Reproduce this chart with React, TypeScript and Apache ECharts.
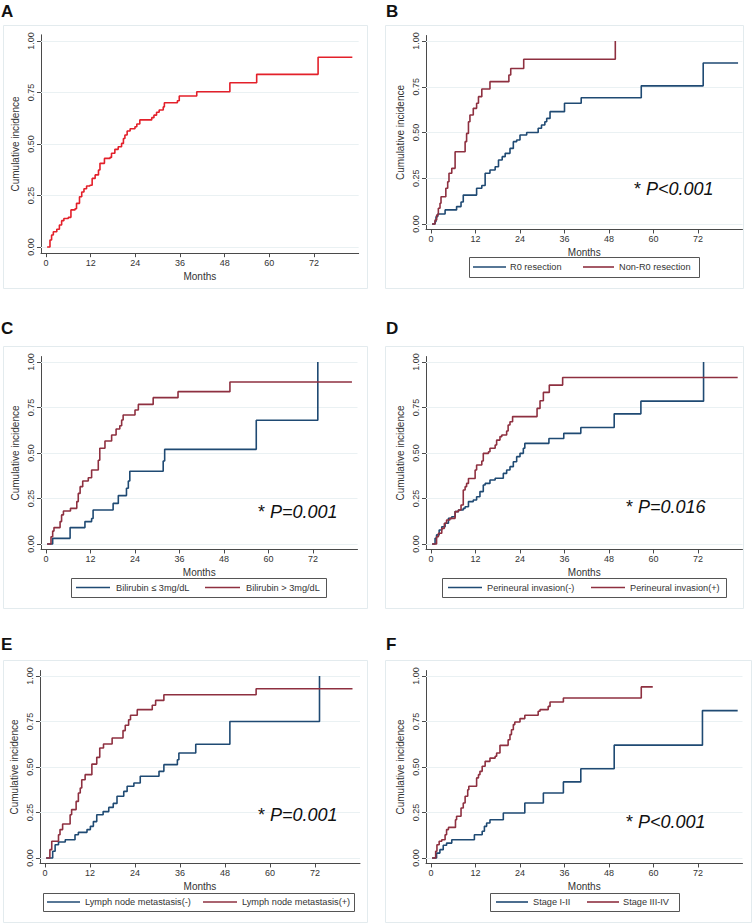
import React, { useEffect, useRef } from "react";
import * as echarts from "echarts";

// ---------- tick values ----------
const xTicks = [0, 12, 24, 36, 48, 60, 72];
const yTicks = [0, 0.25, 0.5, 0.75, 1];

// ---------- data: [month, cumulative incidence] ----------
const curveA: number[][] = [
  [0.3, 0], [1.07, 0.034], [1.5, 0.058], [1.97, 0.074], [2.9, 0.086], [3.6, 0.107], [4.2, 0.128], [4.8, 0.138],
  [6.0, 0.144], [6.7, 0.18], [7.8, 0.186], [8.2, 0.212], [9.0, 0.244], [9.6, 0.267], [10.2, 0.283], [10.9, 0.296],
  [11.8, 0.3], [12.4, 0.333], [13.2, 0.35], [14.1, 0.374], [14.5, 0.406], [15.7, 0.43], [17.2, 0.435], [17.6, 0.455],
  [18.5, 0.474], [19.4, 0.487], [20.3, 0.503], [20.8, 0.527], [21.2, 0.544], [21.8, 0.563], [22.6, 0.574], [23.9, 0.584],
  [24.4, 0.597], [25.2, 0.617], [28.4, 0.628], [29.0, 0.64], [29.7, 0.654], [30.4, 0.665], [31.5, 0.68], [31.8, 0.7],
  [35.3, 0.71], [35.8, 0.733], [40.5, 0.754], [49.4, 0.797], [56.6, 0.838], [73.1, 0.921], [82.3, 0.921],
];

const curveB_R0: number[][] = [
  [0.3, 0], [1.1, 0.013], [1.35, 0.04], [1.8, 0.055], [3.8, 0.077], [6.9, 0.095], [8.1, 0.12], [8.7, 0.158],
  [12.3, 0.195], [13.7, 0.21], [14.6, 0.277], [15.9, 0.295], [17.3, 0.313], [18.2, 0.35], [19.2, 0.368], [20, 0.386],
  [21.3, 0.413], [22.2, 0.45], [23.1, 0.459], [24, 0.486], [25.8, 0.5], [28.9, 0.523], [29.8, 0.541], [30.7, 0.559],
  [31.2, 0.577], [32.1, 0.614], [36, 0.66], [40.5, 0.69], [56.7, 0.755], [73.4, 0.88], [82.8, 0.88],
];
const curveB_NonR0: number[][] = [
  [0.3, 0], [1.08, 0.022], [1.53, 0.049], [1.98, 0.086], [2.43, 0.113], [2.7, 0.149], [4.0, 0.195], [4.5, 0.231],
  [4.85, 0.277], [5.6, 0.304], [6.5, 0.395], [9.2, 0.45], [9.6, 0.495], [10.1, 0.559], [10.5, 0.596], [11.4, 0.632],
  [12.3, 0.66], [12.8, 0.696], [13.7, 0.738], [15.9, 0.778], [21.0, 0.814], [21.5, 0.85], [25.0, 0.9], [49.7, 1.0],
];

const curveC_Low: number[][] = [
  [0.3, 0], [1.8, 0.031], [6.5, 0.09], [10.5, 0.123], [12.3, 0.14], [12.7, 0.187], [18.1, 0.223], [19.5, 0.266],
  [21.7, 0.306], [22.2, 0.346], [22.6, 0.4], [31.6, 0.456], [32, 0.52], [56.7, 0.68], [73.3, 1.0],
];
const curveC_High: number[][] = [
  [0.3, 0], [1.35, 0.04], [1.8, 0.071], [2.15, 0.09], [3.8, 0.123], [4.2, 0.16], [4.7, 0.181], [6.6, 0.196],
  [8.3, 0.233], [8.7, 0.278], [9.2, 0.315], [9.9, 0.346], [11.4, 0.364], [12.3, 0.407], [14.1, 0.46], [14.5, 0.526],
  [15.9, 0.566], [17.7, 0.599], [18.9, 0.632], [19.9, 0.65], [20.4, 0.681], [20.8, 0.709], [24, 0.736], [24.9, 0.767],
  [28.9, 0.804], [35.6, 0.837], [49.6, 0.89], [82.5, 0.89],
];

const curveD_Neg: number[][] = [
  [0.3, 0], [1.1, 0.031], [1.5, 0.05], [2.2, 0.077], [2.9, 0.095], [3.8, 0.114], [4.7, 0.141], [5.6, 0.15],
  [6.5, 0.178], [7.4, 0.187], [8.7, 0.196], [9.2, 0.205], [10.1, 0.233], [11.4, 0.242], [12.3, 0.26], [13.2, 0.288],
  [14.1, 0.324], [14.6, 0.333], [15.9, 0.352], [17.3, 0.361], [19.5, 0.388], [20.4, 0.407], [21.3, 0.425], [22.2, 0.452],
  [23.1, 0.48], [24, 0.498], [24.9, 0.526], [25.3, 0.553], [31.8, 0.58], [35.8, 0.608], [40.4, 0.64], [49.4, 0.715],
  [56.6, 0.785], [73.5, 1.0],
];
const curveD_Pos: number[][] = [
  [0.3, 0], [1.5, 0.04], [2.0, 0.059], [2.9, 0.086], [3.6, 0.114], [4.2, 0.132], [5.1, 0.141], [6.5, 0.178],
  [7.4, 0.187], [8.1, 0.214], [8.7, 0.297], [9.2, 0.315], [9.6, 0.333], [10.1, 0.36], [11.9, 0.407], [12.3, 0.434],
  [13.7, 0.456], [14.1, 0.498], [15.5, 0.507], [15.9, 0.526], [17.3, 0.544], [17.7, 0.571], [18.6, 0.59], [19.1, 0.599],
  [20.4, 0.621], [20.8, 0.654], [21.3, 0.672], [22, 0.7], [28.6, 0.745], [29.4, 0.787], [30.3, 0.833], [31.9, 0.873],
  [35.5, 0.915], [82.7, 0.915],
];

const curveE_Neg: number[][] = [
  [0.3, 0], [2.05, 0.037], [2.7, 0.073], [3.6, 0.088], [5.4, 0.1], [8.0, 0.128], [8.9, 0.141], [11.2, 0.156],
  [12.1, 0.174], [12.9, 0.2], [13.8, 0.238], [15.5, 0.255], [17.0, 0.278], [18.2, 0.3], [19.2, 0.339], [21, 0.366],
  [21.9, 0.394], [23.7, 0.412], [25.4, 0.449], [30.4, 0.476], [31.7, 0.513], [35.3, 0.54], [35.7, 0.577], [40.2, 0.625],
  [49.3, 0.75], [73.2, 1.0],
];
const curveE_Pos: number[][] = [
  [0.3, 0], [1.3, 0.046], [1.8, 0.092], [3.6, 0.128], [4.0, 0.156], [4.7, 0.187], [6.7, 0.238], [7.1, 0.266],
  [8.3, 0.311], [8.9, 0.357], [9.4, 0.385], [9.8, 0.43], [10.7, 0.458], [12.5, 0.516], [13.8, 0.553], [14.6, 0.604],
  [15.6, 0.626], [17.9, 0.659], [20.8, 0.7], [21.4, 0.729], [22.3, 0.76], [22.8, 0.784], [24.6, 0.815], [28.6, 0.839],
  [29.5, 0.866], [31.7, 0.897], [56.3, 0.93], [82, 0.93],
];

const curveF_Early: number[][] = [
  [0.3, 0], [1.5, 0.027], [2.4, 0.046], [3.3, 0.07], [4.2, 0.082], [5.6, 0.1], [11.7, 0.128], [13.8, 0.147],
  [14.4, 0.174], [15, 0.192], [15.9, 0.21], [19.5, 0.247], [25.3, 0.302], [30.3, 0.357], [35.7, 0.418], [40.4, 0.49],
  [49.4, 0.62], [73.2, 0.81], [82.7, 0.81],
];
const curveF_Late: number[][] = [
  [0.3, 0], [1.26, 0.037], [1.6, 0.073], [2.2, 0.092], [2.9, 0.1], [3.8, 0.128], [4.2, 0.156], [4.7, 0.168],
  [6.6, 0.21], [6.9, 0.229], [8.1, 0.275], [8.7, 0.302], [9.2, 0.339], [9.9, 0.375], [10.2, 0.394], [12.3, 0.44],
  [12.8, 0.458], [13.2, 0.476], [13.8, 0.504], [14.6, 0.531], [15.9, 0.549], [17.3, 0.559], [17.7, 0.577], [18.6, 0.619],
  [20.8, 0.65], [21.3, 0.678], [21.7, 0.705], [22.2, 0.733], [22.6, 0.747], [24, 0.766], [25.3, 0.784], [28.9, 0.806],
  [29.4, 0.815], [31.6, 0.833], [32.1, 0.857], [35.7, 0.879], [56.7, 0.94], [59.8, 0.94],
];

// ---------- labels ----------
const panelLetters = ["A", "B", "C", "D", "E", "F"];
const seriesNames = [
  ["All patients"],
  ["R0 resection", "Non-R0 resection"],
  ["Bilirubin ≤ 3mg/dL", "Bilirubin > 3mg/dL"],
  ["Perineural invasion(-)", "Perineural invasion(+)"],
  ["Lymph node metastasis(-)", "Lymph node metastasis(+)"],
  ["Stage I-II", "Stage III-IV"],
];
const pValues = ["", "P<0.001", "P=0.001", "P=0.016", "P=0.001", "P<0.001"];
const panelData = [
  [curveA],
  [curveB_R0, curveB_NonR0],
  [curveC_Low, curveC_High],
  [curveD_Neg, curveD_Pos],
  [curveE_Neg, curveE_Pos],
  [curveF_Early, curveF_Late],
];

// ---------- layout (pixel positions) ----------
const FONT = "'Liberation Sans', Arial, sans-serif";
const NAVY = "#1f4a73";
const MAROON = "#8e3040";
const RED = "#e3202a";
const X_MIN = -1.35, X_MAX = 84, Y_MIN = -0.03, Y_MAX = 1.03;

type Geo = {
  x0: number; x72: number; y0: number; y1: number;
  letter: [number, number]; box: [number, number, number, number];
  legend?: { box: [number, number, number, number]; l1: [number, number]; t1: number; l2: [number, number]; t2: number };
  p?: [number, number];
};
const geos: Geo[] = [
  { x0: 46, x72: 314, y0: 247, y1: 41, letter: [1, 3], box: [3, 25, 364, 263] },
  {
    x0: 431, x72: 698, y0: 224, y1: 41, letter: [386, 3], box: [385, 25, 358, 263],
    legend: { box: [469, 257, 230, 20], l1: [473, 506], t1: 510, l2: [583, 614], t2: 619 }, p: [634, 189],
  },
  {
    x0: 46, x72: 313, y0: 544, y1: 362, letter: [1, 320], box: [3, 346, 364, 262],
    legend: { box: [71, 578, 255, 19], l1: [76, 110], t1: 116, l2: [205, 240], t2: 246 }, p: [258, 512],
  },
  {
    x0: 431, x72: 698, y0: 544, y1: 362, letter: [386, 320], box: [385, 346, 358, 262],
    legend: { box: [442, 578, 284, 19], l1: [448, 482], t1: 487, l2: [591, 625], t2: 630 }, p: [626, 507],
  },
  {
    x0: 45, x72: 315, y0: 858, y1: 676, letter: [1, 636], box: [3, 660, 364, 262],
    legend: { box: [43, 893, 311, 18], l1: [47, 80], t1: 85, l2: [203, 237], t2: 242 }, p: [258, 815],
  },
  {
    x0: 431, x72: 698, y0: 858, y1: 676, letter: [386, 636], box: [385, 660, 366, 262],
    legend: { box: [490, 893, 189, 18], l1: [496, 528], t1: 533, l2: [587, 619], t2: 623 }, p: [626, 822],
  },
];

function buildOption() {
  const grid: any[] = [];
  const xAxis: any[] = [];
  const yAxis: any[] = [];
  const series: any[] = [];
  const graphic: any[] = [];

  geos.forEach((g, i) => {
    const ppm = (g.x72 - g.x0) / 72;
    const ppu = g.y0 - g.y1;
    const left = g.x0 + X_MIN * ppm;
    const width = (X_MAX - X_MIN) * ppm;
    const top = g.y1 - (Y_MAX - 1) * ppu;
    const height = (Y_MAX - Y_MIN) * ppu;
    grid.push({ left, top, width, height, containLabel: false, outerBoundsMode: "none" });

    xAxis.push({
      gridIndex: i, type: "value", min: X_MIN, max: X_MAX,
      axisLine: { show: true, onZero: false, lineStyle: { color: "#4a4a4a", width: 1 } },
      axisTick: { show: true, customValues: xTicks, length: 4, lineStyle: { color: "#4a4a4a" } },
      axisLabel: { customValues: xTicks, fontSize: 9, color: "#333", margin: 5, fontFamily: FONT },
      splitLine: { show: false },
      name: "Months", nameLocation: "middle", nameGap: 18,
      nameTextStyle: { fontSize: 10, color: "#333", fontFamily: FONT },
    });
    yAxis.push({
      gridIndex: i, type: "value", min: Y_MIN, max: Y_MAX,
      axisLine: { show: true, onZero: false, lineStyle: { color: "#4a4a4a", width: 1 } },
      axisTick: { show: true, customValues: yTicks, length: 4, lineStyle: { color: "#4a4a4a" } },
      axisLabel: {
        customValues: yTicks, rotate: 90, fontSize: 9, color: "#333", margin: 5, fontFamily: FONT,
        formatter: (v: number) => v.toFixed(2),
      },
      splitLine: { show: false },
      name: "Cumulative incidence", nameLocation: "middle", nameGap: 20,
      nameTextStyle: { fontSize: 10, color: "#333", fontFamily: FONT },
    });

    panelData[i].forEach((d, k) => {
      const color = i === 0 ? RED : k === 0 ? NAVY : MAROON;
      const s: any = {
        type: "line", name: seriesNames[i][k], xAxisIndex: i, yAxisIndex: i,
        data: d, step: "end", showSymbol: false, symbol: "none", silent: true,
        lineStyle: { color, width: 1.6 }, itemStyle: { color }, z: 3 + k,
      };
      if (k === 0) {
        s.markLine = {
          silent: true, symbol: "none", label: { show: false },
          lineStyle: { color: "#eaf1f3", width: 1, type: "solid" },
          data: yTicks.map((v) => ({ yAxis: v })),
          z: 1,
        };
      }
      series.push(s);
    });

    // panel border
    graphic.push({
      type: "rect", shape: { x: g.box[0] + 0.5, y: g.box[1] + 0.5, width: g.box[2], height: g.box[3] },
      style: { fill: "none", stroke: "#e3ebee", lineWidth: 1 }, silent: true, z: 0,
    });
    // letter
    graphic.push({
      type: "text", x: g.letter[0], y: g.letter[1],
      style: { text: panelLetters[i], font: `bold 17px ${FONT}`, fill: "#111", verticalAlign: "top" },
    });
    if (g.legend) {
      const L = g.legend;
      const cy = L.box[1] + L.box[3] / 2;
      graphic.push({
        type: "rect", shape: { x: L.box[0] + 0.5, y: L.box[1] + 0.5, width: L.box[2], height: L.box[3] },
        style: { fill: "#fff", stroke: "#555", lineWidth: 1 }, z: 10,
      });
      graphic.push({ type: "line", shape: { x1: L.l1[0], y1: cy, x2: L.l1[1], y2: cy }, style: { stroke: NAVY, lineWidth: 1.6 }, z: 11 });
      graphic.push({ type: "line", shape: { x1: L.l2[0], y1: cy, x2: L.l2[1], y2: cy }, style: { stroke: MAROON, lineWidth: 1.6 }, z: 11 });
      graphic.push({
        type: "text", x: L.t1, y: cy, z: 11,
        style: { text: seriesNames[i][0], font: `9.2px ${FONT}`, fill: "#333", verticalAlign: "middle" },
      });
      graphic.push({
        type: "text", x: L.t2, y: cy, z: 11,
        style: { text: seriesNames[i][1], font: `9.2px ${FONT}`, fill: "#333", verticalAlign: "middle" },
      });
    }
    if (g.p) {
      graphic.push({
        type: "text", x: g.p[0], y: g.p[1], z: 11,
        style: {
          text: `{s|* }{p|${pValues[i]}}`,
          verticalAlign: "middle",
          rich: {
            s: { fontSize: 18, fontFamily: FONT, fill: "#111", color: "#111" },
            p: { fontSize: 18, fontFamily: FONT, fontStyle: "italic", fill: "#111", color: "#111" },
          },
        },
      });
    }
  });

  return {
    animation: false,
    backgroundColor: "#ffffff",
    grid, xAxis, yAxis, series, graphic,
  };
}

export default function App() {
  const ref = useRef<HTMLDivElement>(null);
  useEffect(() => {
    if (!ref.current) return;
    const chart = echarts.init(ref.current, undefined, { renderer: "svg" });
    chart.setOption(buildOption() as any);
    return () => chart.dispose();
  }, []);
  return (
    <div
      ref={ref}
      style={{ position: "absolute", left: 0, top: 0, width: 753, height: 923, background: "#fff" }}
    />
  );
}
